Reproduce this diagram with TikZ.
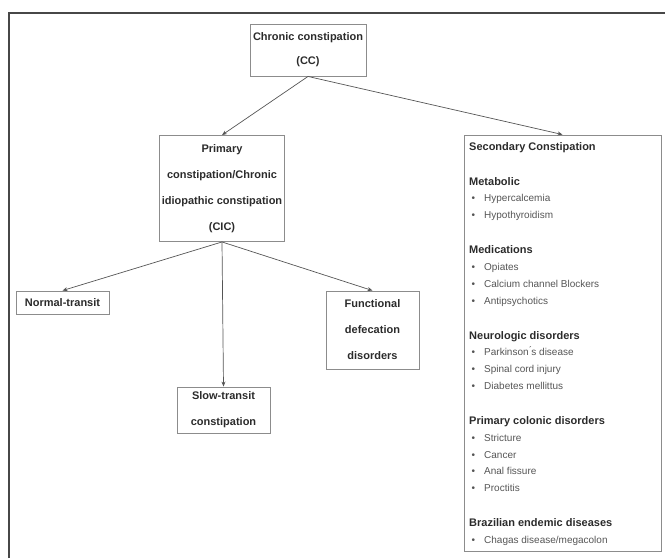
\documentclass[tikz,border=0pt]{standalone}
\usepackage{fontspec}
\setmainfont{Liberation Sans}
\usepackage{xcolor}
\usetikzlibrary{positioning, arrows.meta, fit}
\definecolor{linegray}{HTML}{555555}
\definecolor{boxgray}{HTML}{8C8C8C}
\definecolor{textdark}{HTML}{2B2B2B}
\definecolor{itemgray}{HTML}{555555}
\tikzset{
  catbox/.style={draw=boxgray, line width=0.9pt, align=center, inner sep=2pt, text=textdark,
    font=\bfseries\fontsize{11}{26}\selectfont},
  branch/.style={-{Stealth[length=5pt,width=4pt]}, draw=linegray, line width=0.7pt}
}
\newcommand{\bul}{\hspace*{2.5pt}\makebox[12.5pt][l]{\textbullet}}
\newcommand{\grp}[1]{{\bfseries\fontsize{11}{16.8}\selectfont\color{textdark}#1}}

\begin{document}
\begin{tikzpicture}[x=1pt,y=-1pt]
  \useasboundingbox (0,0) rectangle (665,558);
  % outer frame, cut off at right and bottom
  \draw[line width=1.6pt, draw=black!72] (9,558) |- (665,13);

  \node[catbox, minimum width=116pt, minimum height=52pt,
        font=\bfseries\fontsize{11}{24}\selectfont] (cc) at (308,50) {Chronic constipation\\(CC)};
  \node[catbox, minimum width=124pt, minimum height=106pt] (cic) at (222,188.5)
    {Primary\\constipation/Chronic\\idiopathic constipation\\(CIC)};
  \node[catbox, minimum width=93pt, minimum height=23pt] (normal) at (62.5,302.5) {Normal-transit};
  \node[catbox, minimum width=93pt, minimum height=78pt] (func) at (372.5,330) {Functional\\defecation\\disorders};
  \node[catbox, minimum width=93pt, minimum height=46pt] (slow) at (223.5,410) {Slow-transit\\constipation};
  \coordinate (secnw) at (464,135);
  \coordinate (secse) at (661,551);
  \node[draw=boxgray, line width=0.9pt, inner sep=0pt, fit=(secnw)(secse)] (sec) {};

  % causes of secondary constipation
  \node[anchor=north west, inner sep=0pt, align=left, text=itemgray,
        font=\fontsize{10}{16.8}\selectfont] (causes) at (469,142) {%
    \grp{Secondary Constipation}\\[18.2pt]
    \grp{Metabolic}\\
    \bul Hypercalcemia\\
    \bul Hypothyroidism\\[18.2pt]
    \grp{Medications}\\
    \bul Opiates\\
    \bul Calcium channel Blockers\\
    \bul Antipsychotics\\[18.2pt]
    \grp{Neurologic disorders}\\
    \bul Parkinson\'{}s disease\\
    \bul Spinal cord injury\\
    \bul Diabetes mellittus\\[18.2pt]
    \grp{Primary colonic disorders}\\
    \bul Stricture\\
    \bul Cancer\\
    \bul Anal fissure\\
    \bul Proctitis\\[18.2pt]
    \grp{Brazilian endemic diseases}\\
    \bul Chagas disease/megacolon};

  \draw[branch] (cc.south) -- (cic.north);
  \draw[branch] (cc.south) -- (sec.north);
  \draw[branch] (cic.south) -- (normal.north);
  \draw[branch] (cic.south) -- (slow.north);
  \draw[branch] (cic.south) -- (func.north);
\end{tikzpicture}
\end{document}
